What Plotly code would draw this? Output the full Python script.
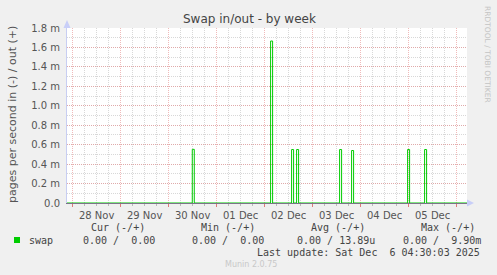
import plotly.graph_objects as go

# ---- data ----
out_times = ["2025-11-27 21:12",
             "2025-11-30 11:50", "2025-11-30 12:50",
             "2025-12-02 03:00", "2025-12-02 04:00",
             "2025-12-02 13:30", "2025-12-02 14:30",
             "2025-12-02 16:00", "2025-12-02 17:00",
             "2025-12-03 13:30", "2025-12-03 14:30",
             "2025-12-03 19:30", "2025-12-03 20:30",
             "2025-12-04 23:30", "2025-12-05 00:30",
             "2025-12-05 08:00", "2025-12-05 09:00",
             "2025-12-06 05:12"]
out_values = [0,
              0.000552, 0,
              0.001666, 0,
              0.00055, 0,
              0.00055, 0,
              0.00055, 0,
              0.00054, 0,
              0.00055, 0,
              0.00055, 0,
              0]
x_range = ["2025-11-27 21:12", "2025-12-06 05:12"]
y_tickvals = [0, 0.0002, 0.0004, 0.0006, 0.0008, 0.0010, 0.0012, 0.0014, 0.0016, 0.0018]
y_ticktext = ["0.0", "0.2 m", "0.4 m", "0.6 m", "0.8 m", "1.0 m", "1.2 m", "1.4 m", "1.6 m", "1.8 m"]
legend_name = "swap"
col_headers = ["Cur (-/+)", "Min (-/+)", "Avg (-/+)", "Max (-/+)"]
col_values = ["0.00 /  0.00", "0.00 /  0.00", "0.00 / 13.89u", "0.00 /  9.90m"]
last_update = "Last update: Sat Dec  6 04:30:03 2025"

W, H = 497, 275
L, R, T, B = 67, 30, 28, 72
PW, PH = W - L - R, H - T - B

def px(x):
    return (x - L) / PW

def py(y):
    return (H - B - y) / PH

GREEN = "#00cc00"
RED_GRID = "rgba(230,140,140,0.6)"
GRAY_GRID = "rgba(190,190,190,0.6)"
TXT = "#555555"
DOTS = "1px,1px"

fig = go.Figure()
fig.add_trace(go.Scatter(x=out_times, y=out_values, mode="lines",
                         line=dict(color=GREEN, width=1, shape="hv"),
                         showlegend=False, hoverinfo="skip"))

fig.update_layout(
    width=W, height=H,
    margin=dict(l=L, r=R, t=T, b=B),
    paper_bgcolor="#f0f0f0", plot_bgcolor="#ffffff",
    showlegend=False,
    font=dict(family="DejaVu Sans", size=10, color=TXT),
)
fig.update_xaxes(
    type="date", range=x_range,
    tick0="2025-11-28", dtick=86400000, ticklabelmode="period",
    tickformat="%d %b",
    showgrid=True, gridcolor=RED_GRID, griddash=DOTS, gridwidth=1,
    ticks="outside", ticklen=3, tickcolor="rgba(220,110,110,0.9)",
    minor=dict(dtick=6 * 3600000, tick0="2025-11-28", showgrid=True,
               gridcolor=GRAY_GRID, griddash=DOTS, gridwidth=1,
               ticks="outside", ticklen=2, tickcolor="rgba(180,180,180,0.9)"),
    showline=True, linecolor="#7a7488", linewidth=1,
    tickfont=dict(size=10, color=TXT, family="DejaVu Sans"),
    zeroline=False, fixedrange=True,
)
fig.update_yaxes(
    range=[0, 0.0018],
    tickmode="array", tickvals=y_tickvals, ticktext=y_ticktext,
    showgrid=True, gridcolor=RED_GRID, griddash=DOTS, gridwidth=1,
    minor=dict(dtick=0.0001, tick0=0, showgrid=True, gridcolor=GRAY_GRID,
               griddash=DOTS, gridwidth=1),
    ticks="", ticklabelstandoff=4,
    showline=True, linecolor="#c8cef2", linewidth=1,
    tickfont=dict(size=10, color=TXT, family="DejaVu Sans"),
    zeroline=False, fixedrange=True,
)

# axis arrows
fig.add_shape(type="path", xref="paper", yref="paper",
              path=f"M {px(63.5)} {py(28)} L {px(70.5)} {py(28)} L {px(67)} {py(20)} Z",
              fillcolor="#c8cef8", line=dict(width=0))
fig.add_shape(type="path", xref="paper", yref="paper",
              path=f"M {px(467)} {py(199.5)} L {px(467)} {py(206.5)} L {px(474)} {py(203)} Z",
              fillcolor="#c8cef8", line=dict(width=0))

ann = []
ann.append(dict(text="Swap in/out - by week", x=px(249), y=py(19), xanchor="center", yanchor="middle",
                font=dict(size=12, color="#444444", family="DejaVu Sans")))
ann.append(dict(text="pages per second in (-) / out (+)", x=px(12), y=py(115), textangle=-90,
                xanchor="center", yanchor="middle",
                font=dict(size=11, color=TXT, family="DejaVu Sans")))
ann.append(dict(text="RRDTOOL / TOBI OETIKER", x=px(488), y=py(54), textangle=90,
                xanchor="center", yanchor="middle",
                font=dict(size=7.5, color="#c4c4c4", family="DejaVu Sans")))

MONO = dict(size=10, color="#444444", family="DejaVu Sans Mono")
NB = "\u00a0"

def mono(s):
    return s.replace(" ", NB)

for label, xr in zip(col_headers, [147, 257, 367, 477]):
    ann.append(dict(text=mono(label), x=px(xr), y=py(227), xanchor="right", yanchor="middle", font=MONO))
ann.append(dict(text=legend_name, x=px(27), y=py(240), xanchor="left", yanchor="middle", font=MONO))
for val, xr in zip(col_values, [157, 266, 377, 483]):
    ann.append(dict(text=mono(val), x=px(xr), y=py(240), xanchor="right", yanchor="middle", font=MONO))
ann.append(dict(text=mono(last_update), x=px(482), y=py(252), xanchor="right", yanchor="middle", font=MONO))
ann.append(dict(text="Munin 2.0.75", x=px(223), y=py(264), xanchor="left", yanchor="middle",
                font=dict(size=8, color="#c8c8c8", family="DejaVu Sans")))
for a in ann:
    a.update(xref="paper", yref="paper", showarrow=False)
fig.update_layout(annotations=ann)

fig.add_shape(type="rect", xref="paper", yref="paper",
              x0=px(14), x1=px(20), y0=py(237), y1=py(243),
              fillcolor=GREEN, line=dict(width=0))

fig.write_html("out.html", config={"displayModeBar": False})
